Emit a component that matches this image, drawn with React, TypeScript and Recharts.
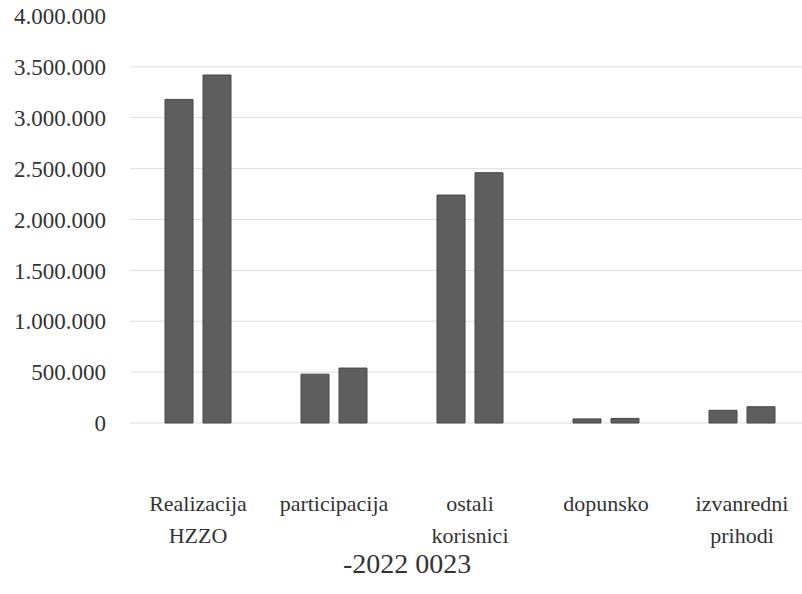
import { BarChart, Bar, XAxis, YAxis, CartesianGrid } from 'recharts';

const CATEGORIES = ['Realizacija HZZO', 'participacija', 'ostali korisnici', 'dopunsko', 'izvanredni prihodi'];
const VALUES_2022 = [3180000, 480000, 2240000, 40000, 125000];
const VALUES_2023 = [3420000, 540000, 2460000, 45000, 160000];
const Y_TICKS = [0, 500000, 1000000, 1500000, 2000000, 2500000, 3000000, 3500000, 4000000];
const GRID_VALUES = [0, 500000, 1000000, 1500000, 2000000, 2500000, 3000000, 3500000];
const LEGEND_TEXT = '-2022 0023';

const chartData = CATEGORIES.map((name, i) => ({
    name,
    y2022: VALUES_2022[i],
    y2023: VALUES_2023[i],
}));

const FONT = "'Liberation Serif', 'Times New Roman', 'DejaVu Serif', serif";

// thousands separated with dots, like the source
const formatValue = (v: number) => String(v).replace(/\B(?=(\d{3})+(?!\d))/g, '.');

function CategoryTick({ x, y, payload }: { x?: number; y?: number; payload?: { value: string } }) {
    const lines = String(payload?.value ?? '').split(' ');
    return (
        <text x={x} y={(y ?? 0) + 88} textAnchor="middle" fill="#333" fontSize={22} style={{ fontFamily: FONT }}>
            {lines.map((line, i) => (
                <tspan key={i} x={x} dy={i === 0 ? 0 : 32}>{line}</tspan>
            ))}
        </text>
    );
}

export default function App() {
    return (
        <div style={{ position: 'absolute', top: 0, left: 0, width: 802, height: 594, overflow: 'hidden', background: '#fff', fontFamily: FONT }}>
            <BarChart
                width={802}
                height={594}
                data={chartData}
                margin={{ top: 16, right: -8, bottom: 60, left: 0 }}
                barSize={28}
                barGap={10}
                style={{ fontFamily: FONT }}
            >
                <CartesianGrid vertical={false} stroke="#dedede" horizontalValues={GRID_VALUES} />
                <XAxis
                    dataKey="name"
                    height={111}
                    axisLine={false}
                    tickLine={false}
                    tickSize={0}
                    tickMargin={0}
                    interval={0}
                    tick={<CategoryTick />}
                />
                <YAxis
                    width={130}
                    domain={[0, 4000000]}
                    ticks={Y_TICKS}
                    interval={0}
                    axisLine={false}
                    tickLine={false}
                    tickSize={0}
                    tickMargin={24}
                    tickFormatter={formatValue}
                    tick={{ fill: '#333', fontSize: 23, style: { fontFamily: FONT } }}
                />
                <Bar dataKey="y2022" name="2022" fill="#5e5e5e" stroke="#474747" isAnimationActive={false} />
                <Bar dataKey="y2023" name="2023" fill="#5e5e5e" stroke="#474747" isAnimationActive={false} />
            </BarChart>
            <div style={{ position: 'absolute', left: 343, top: 550, fontSize: 28, lineHeight: 1, color: '#333', whiteSpace: 'nowrap' }}>
                {LEGEND_TEXT}
            </div>
        </div>
    );
}
